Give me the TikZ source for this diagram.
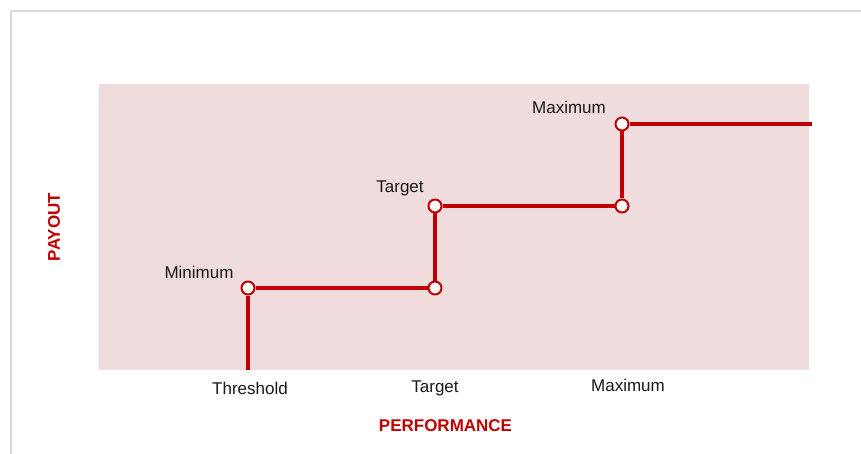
\documentclass[tikz,border=0pt]{standalone}
\usepackage{fontspec}
\setmainfont{Liberation Sans}
\usetikzlibrary{positioning}
\definecolor{payred}{HTML}{C00000}
\definecolor{bandpink}{HTML}{F0DCDC}
\definecolor{framegray}{HTML}{D9D9D9}
\begin{document}
\begin{tikzpicture}[x=1pt,y=-1pt,
        step node/.style={circle,draw=payred,fill=white,line width=2pt,inner sep=0pt,minimum size=13pt},
        level/.style={font=\fontsize{17}{20}\selectfont,inner sep=0pt,anchor=base,text=black!90},
        axis name/.style={font=\fontsize{17}{20}\selectfont\bfseries,inner sep=0pt,text=payred}]

        \useasboundingbox (0,0) rectangle (861,454);
        \draw[framegray,line width=1.5pt] (11,454) -- (11,11) -- (861,11);
        \fill[bandpink] (99,84) rectangle (809,370);

        \coordinate (base) at (248,370);
        \coordinate (cap) at (812,124);
        \node[step node] (1) at (248,288) {};
        \node[step node] (2) at (435,288) {};
        \node[step node] (3) at (435,206) {};
        \node[step node] (4) at (622,206) {};
        \node[step node] (5) at (622,124) {};

        \path[payred,line width=3.5pt]
            (base) edge (1)
            (1) edge (2)
            (2) edge (3)
            (3) edge (4)
            (4) edge (5)
            (5) edge (cap);

        \node[level] (min) at (199,278) {Minimum};
        \node[level] (tgt) at (400,193) {Target};
        \node[level] (max) at (569,114) {Maximum};

        \node[level] (thr) at (250,394) {Threshold};
        \node[level] (tgtx) at (435,392) {Target};
        \node[level] (maxx) at (628,391.5) {Maximum};

        \node[axis name] (perf) at (445.5,425.5) {PERFORMANCE};
        \node[axis name,rotate=90] (pay) at (54,227) {PAYOUT};
\end{tikzpicture}
\end{document}
